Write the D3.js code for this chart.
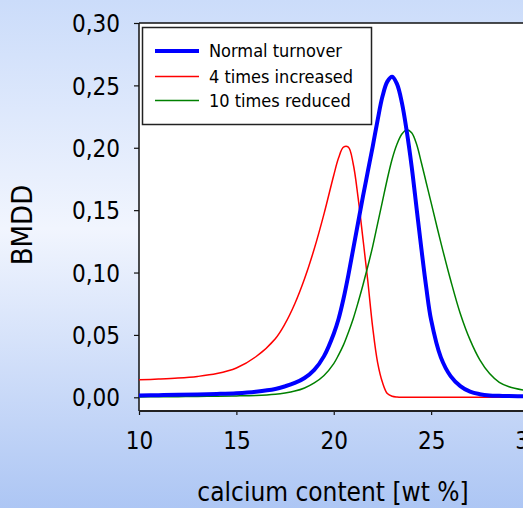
<!DOCTYPE html>
<html>
<head>
<meta charset="utf-8">
<script src="https://cdn.jsdelivr.net/npm/d3@7/dist/d3.min.js"></script>
<style>
  html, body { margin: 0; padding: 0; background: #ffffff; }
  svg { display: block; }
  text { font-family: "DejaVu Sans Condensed", "DejaVu Sans", sans-serif; font-stretch: condensed; fill: #000; }
</style>
</head>
<body>
<svg id="chart" width="523" height="508"></svg>
<script>
// ---- data ----
const calcium = [10, 11, 12, 13, 14, 15, 16, 17, 17.5, 18, 18.5, 19, 19.5, 20, 20.25, 20.5, 20.75,
  21, 21.25, 21.5, 21.75, 22, 22.25, 22.5, 22.75, 23, 23.25, 23.5, 23.75, 24, 24.25, 24.5, 24.75,
  25, 25.5, 26, 26.5, 27, 27.5, 28, 28.5, 29, 30];
const normalTurnover = [0.0015, 0.0017, 0.002, 0.0023, 0.0027, 0.0033, 0.0045, 0.0067, 0.0088, 0.0115, 0.0155, 0.022, 0.033, 0.051, 0.063, 0.079, 0.098,
  0.119, 0.140, 0.161, 0.181, 0.201, 0.222, 0.241, 0.253, 0.257, 0.251, 0.236, 0.213, 0.185, 0.152, 0.119, 0.088,
  0.062, 0.032, 0.017, 0.009, 0.0045, 0.0025, 0.0015, 0.0012, 0.001, 0.0008];
const increased4x = [0.014, 0.0146, 0.0154, 0.0167, 0.019, 0.0235, 0.0325, 0.047, 0.059, 0.075, 0.095, 0.119, 0.147, 0.178, 0.192, 0.2005, 0.2005,
  0.187, 0.160, 0.127, 0.093, 0.056, 0.028, 0.012, 0.003, 0.0008, 0.0002, 0, 0, 0, 0, 0, 0,
  0, 0, 0, 0, 0, 0, 0, 0, 0, 0];
const reduced10x = [0.0003, 0.0004, 0.0005, 0.0007, 0.0009, 0.0011, 0.0015, 0.0025, 0.0035, 0.005, 0.0075, 0.0115, 0.0175, 0.027, 0.034, 0.042, 0.052,
  0.063, 0.076, 0.090, 0.105, 0.121, 0.139, 0.157, 0.175, 0.191, 0.203, 0.211, 0.2145, 0.212, 0.203, 0.188, 0.172,
  0.156, 0.124, 0.094, 0.067, 0.046, 0.030, 0.019, 0.012, 0.0085, 0.005];
const seriesNames = ["Normal turnover", "4 times increased", "10 times reduced"];
const xTicks = [10, 15, 20, 25, 30];
const yTicks = [0, 0.05, 0.10, 0.15, 0.20, 0.25, 0.30];
const xTitle = "calcium content [wt %]";
const yTitle = "BMDD";

const seriesValues = [normalTurnover, increased4x, reduced10x];
const seriesColors = ["#0000ff", "#ff0000", "#008000"];
const seriesWidths = [4, 1.5, 1.5];

// ---- chart ----
const W = 523, H = 508;
const svg = d3.select("#chart");

const defs = svg.append("defs");
const grad = defs.append("linearGradient").attr("id", "bg").attr("x1", 0).attr("y1", 0).attr("x2", 0).attr("y2", 1);
grad.append("stop").attr("offset", "0%").attr("stop-color", "#cbdcfa");
grad.append("stop").attr("offset", "45%").attr("stop-color", "#f1f5fe");
grad.append("stop").attr("offset", "100%").attr("stop-color", "#adc6f4");
svg.append("rect").attr("width", W).attr("height", H).attr("fill", "url(#bg)");

const pLeft = 139, pRight = 528.5, pTop = 23, pBottom = 411;
const x = d3.scaleLinear().domain([10, 30]).range([pLeft, pRight]);
const y = d3.scaleLinear().domain([0, 0.30]).range([397.3, pTop]);

// plot area
svg.append("rect").attr("x", pLeft).attr("y", pTop).attr("width", W - pLeft).attr("height", pBottom - pTop).attr("fill", "#ffffff");
svg.append("line").attr("x1", pLeft).attr("x2", W).attr("y1", pTop).attr("y2", pTop).attr("stroke", "#111").attr("stroke-width", 1.5);

const fmt = d => d3.format(".2f")(d).replace(".", ",");

// y axis
const yAxis = svg.append("g").attr("transform", `translate(${pLeft},0)`)
  .call(d3.axisLeft(y).tickValues(yTicks).tickFormat(fmt).tickSize(5).tickPadding(14));
yAxis.select(".domain").remove();
yAxis.append("line").attr("x1", 0).attr("x2", 0).attr("y1", pTop).attr("y2", pBottom).attr("stroke", "#111").attr("stroke-width", 1.5);
yAxis.selectAll(".tick line").attr("stroke", "#111").attr("stroke-width", 1.2);
yAxis.selectAll(".tick text").style("font-size", "24px").attr("dy", "0.36em");

// x axis
const xAxis = svg.append("g").attr("transform", `translate(0,${pBottom})`)
  .call(d3.axisBottom(x).tickValues(xTicks).tickFormat(d3.format("d")).tickSize(4).tickPadding(22));
xAxis.select(".domain").remove();
xAxis.append("line").attr("x1", pLeft).attr("x2", W).attr("y1", 0).attr("y2", 0).attr("stroke", "#222").attr("stroke-width", 2);
xAxis.selectAll(".tick line").attr("stroke", "#111").attr("stroke-width", 1.2);
xAxis.selectAll(".tick text").style("font-size", "24px").attr("dy", "0.5em");

// titles
svg.append("text").attr("x", 333).attr("y", 501).attr("text-anchor", "middle").style("font-size", "26px").text(xTitle);
svg.append("text").attr("transform", "translate(32,225) rotate(-90)").attr("text-anchor", "middle").style("font-size", "29px").text(yTitle);

// curves
const clip = defs.append("clipPath").attr("id", "plotclip");
clip.append("rect").attr("x", pLeft).attr("y", pTop).attr("width", pRight - pLeft).attr("height", pBottom - pTop);
const line = d3.line().x(d => x(d[0])).y(d => y(d[1])).curve(d3.curveCatmullRom.alpha(0.5));
const order = [1, 2, 0];
order.forEach(i => {
  const pts = calcium.map((c, k) => [c, seriesValues[i][k]]);
  svg.append("path").attr("clip-path", "url(#plotclip)").attr("d", line(pts))
    .attr("fill", "none").attr("stroke", seriesColors[i]).attr("stroke-width", seriesWidths[i])
    .attr("stroke-linejoin", "round");
});

// legend
const lg = svg.append("g");
lg.append("rect").attr("x", 142.5).attr("y", 27.5).attr("width", 229).attr("height", 97)
  .attr("fill", "#fff").attr("stroke", "#222").attr("stroke-width", 1.5);
const rowY = [51, 76.5, 100.5];
seriesNames.forEach((name, i) => {
  lg.append("line").attr("x1", 155).attr("x2", 199).attr("y1", rowY[i]).attr("y2", rowY[i])
    .attr("stroke", seriesColors[i]).attr("stroke-width", seriesWidths[i]);
  lg.append("text").attr("x", 209).attr("y", rowY[i]).attr("dy", "0.36em").style("font-size", "18px").text(name);
});
</script>
</body>
</html>
